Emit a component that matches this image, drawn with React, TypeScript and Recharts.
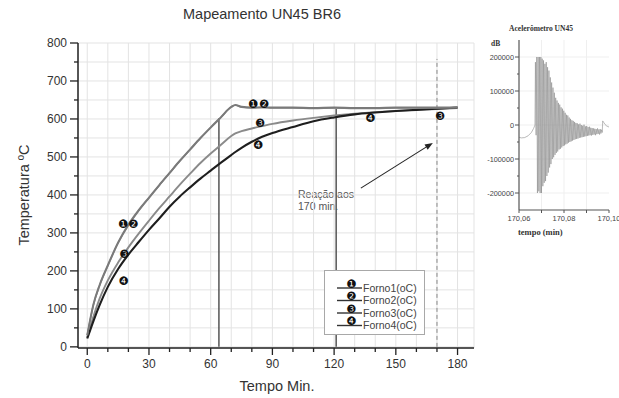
import React from "react";
import {
  CartesianGrid,
  ComposedChart,
  Legend,
  Line,
  LineChart,
  ReferenceDot,
  ReferenceLine,
  XAxis,
  YAxis,
} from "recharts";

// main chart: furnace temperatures
const tempoMin = [0, 3, 6, 10, 15, 20, 25, 30, 35, 40, 45, 50, 55, 60, 65, 70, 72, 75, 80, 85, 90, 100, 110, 120, 130, 140, 150, 160, 170, 180];
const forno1 = [31, 112, 163, 215, 275, 322, 360, 393, 426, 458, 490, 520, 550, 578, 605, 632, 637, 632, 630, 631, 630, 630, 629, 630, 629, 629, 630, 630, 630, 631];
const forno2 = [30, 110, 161, 213, 273, 320, 358, 392, 425, 457, 489, 519, 549, 577, 604, 631, 636, 631, 629, 630, 629, 629, 628, 629, 628, 628, 629, 629, 629, 630];
const forno3 = [25, 80, 127, 175, 222, 262, 298, 332, 365, 396, 427, 456, 484, 509, 532, 555, 562, 568, 575, 581, 587, 596, 603, 609, 614, 618, 621, 624, 626, 629];
const forno4 = [22, 68, 110, 158, 205, 243, 276, 308, 338, 369, 396, 420, 443, 464, 485, 505, 513, 524, 540, 553, 563, 579, 594, 604, 612, 617, 621, 624, 627, 630];
const seriesNames = ["Forno1(oC)", "Forno2(oC)", "Forno3(oC)", "Forno4(oC)"];
const seriesBadges = ["\u2776", "\u2777", "\u2778", "\u2779"];

const xTicks = [0, 10, 20, 30, 40, 50, 60, 70, 80, 90, 100, 110, 120, 130, 140, 150, 160, 170, 180];
const yTicks = [0, 50, 100, 150, 200, 250, 300, 350, 400, 450, 500, 550, 600, 650, 700, 750, 800];

// circled numbers placed along the curves
const badgeT = [17.5, 22.4, 80.7, 86, 18.1, 84.1, 171.6, 17.7, 83.1, 137.6];
const badgeV = [324, 324, 639, 639, 245, 589, 609, 174, 531, 603];
const badgeText = ["\u2776", "\u2777", "\u2776", "\u2777", "\u2778", "\u2778", "\u2778", "\u2779", "\u2779", "\u2779"];

// inset: accelerometer trace
const accelPreT = [170.06, 170.061, 170.0625, 170.064, 170.0655, 170.0665, 170.0671];
const accelPreV = [-36000, -38000, -37000, -32000, -22000, -10000, 0];
const accelBurstStart = 170.0673;
const accelBurstStep = 0.0003;
const accelBurstV = [
  185000, -30000, 200000, -200000, 200000, -195000, 200000, -200000, 200000, -200000,
  195000, -180000, 190000, -170000, 180000, -165000, 185000, -150000, 170000, -140000,
  160000, -125000, 140000, -115000, 125000, -100000, 110000, -95000, 95000, -88000,
  80000, -82000, 72000, -78000, 65000, -72000, 60000, -70000, 52000, -66000,
  48000, -62000, 42000, -60000, 36000, -57000, 30000, -55000, 28000, -52000,
  22000, -50000, 18000, -48000, 14000, -46000, 12000, -44000, 9000, -42000,
  6000, -41000, 5000, -40000, 2000, -38000, 4000, -37000, 0, -36000,
  -2000, -35000, 1000, -34000, -4000, -33000, -3000, -32000, -6000, -31000,
  -5000, -30000, -8000, -31000, -9000, -29000, -10000, -28000, -11000, -30000,
  -12000, -27000, -10000, -26000, -13000, -28000, -12000, -25000, -14000, -22000,
];
const accelPostT = [170.0972, 170.0976, 170.0982, 170.099, 170.1];
const accelPostV = [12000, 8000, 2000, -3000, -6000];
const accelXTicks = [170.06, 170.07, 170.08, 170.09, 170.1];
const accelYTicks = [-200000, -150000, -100000, -50000, 0, 50000, 100000, 150000, 200000];

const mainTable = tempoMin.map((t, i) => ({
  t,
  forno1: forno1[i],
  forno2: forno2[i],
  forno3: forno3[i],
  forno4: forno4[i],
}));

const accelTable = [
  ...accelPreT.map((t, i) => ({ t, v: accelPreV[i] })),
  ...accelBurstV.map((v, i) => ({ t: accelBurstStart + i * accelBurstStep, v })),
  ...accelPostT.map((t, i) => ({ t, v: accelPostV[i] })),
];

const SANS = "'Liberation Sans', Arial, sans-serif";
const SERIF = "'Liberation Serif', 'Times New Roman', serif";
const DINGBAT = "'DejaVu Sans', sans-serif";

function BottomTick(props: any) {
  const { x, y, payload } = props;
  const major = payload.value % 30 === 0;
  return (
    <g>
      <line x1={x} x2={x} y1={y} y2={y + (major ? 7 : 4)} stroke="#222" strokeWidth={1.3} />
      {major && (
        <text x={x} y={y + 20} textAnchor="middle" fontSize={12} fill="#333" fontFamily={SANS}>
          {payload.value}
        </text>
      )}
    </g>
  );
}

function TopTick(props: any) {
  const { x, y, payload } = props;
  const major = payload.value % 30 === 0;
  return <line x1={x} x2={x} y1={y} y2={y - (major ? 5 : 3)} stroke="#333" strokeWidth={1.2} />;
}

function LeftTick(props: any) {
  const { x, y, payload } = props;
  const major = payload.value % 100 === 0;
  return (
    <g>
      <line x1={x} x2={x - (major ? 8 : 4)} y1={y} y2={y} stroke="#222" strokeWidth={1.3} />
      {major && (
        <text x={x - 11} y={y + 4} textAnchor="end" fontSize={12} fill="#333" fontFamily={SANS}>
          {payload.value}
        </text>
      )}
    </g>
  );
}

function Arrow(props: any) {
  const { x1, y1, x2, y2 } = props;
  const a = Math.atan2(y2 - y1, x2 - x1);
  const len = 8;
  const half = 3;
  const bx = x2 - len * Math.cos(a);
  const by = y2 - len * Math.sin(a);
  const px = -Math.sin(a) * half;
  const py = Math.cos(a) * half;
  return (
    <g>
      <line x1={x1} y1={y1} x2={bx} y2={by} stroke="#222" strokeWidth={1.1} />
      <polygon points={`${x2},${y2} ${bx + px},${by + py} ${bx - px},${by - py}`} fill="#222" />
    </g>
  );
}

function badgeShape(label: string) {
  return (p: any) => (
    <text x={p.cx} y={p.cy + 4} textAnchor="middle" fontSize={11.5} fill="#111" fontFamily={DINGBAT}>
      {label}
    </text>
  );
}

function LegendBox() {
  const rows = [17, 29.5, 42, 54.5];
  return (
    <svg width={101} height={65} style={{ display: "block" }}>
      <rect x={0.5} y={0.5} width={100} height={64} fill="#fff" stroke="#a8a8a8" />
      {seriesNames.map((name, i) => (
        <g key={name}>
          <line x1={13} x2={38} y1={rows[i] + 1} y2={rows[i] + 1} stroke="#333" strokeWidth={1.4} />
          <text x={27.5} y={rows[i] + 0.5} textAnchor="middle" fontSize={11.5} fill="#111" fontFamily={DINGBAT}>
            {seriesBadges[i]}
          </text>
          <text x={39} y={rows[i] + 4.5} fontSize={10.5} fill="#444" fontFamily={SANS}>
            {name}
          </text>
        </g>
      ))}
    </svg>
  );
}

function AccelBottomTick(props: any) {
  const { x, y, payload } = props;
  const labelled = Math.round(payload.value * 100) % 2 === 0;
  return (
    <g>
      <line x1={x} x2={x} y1={y} y2={y + 3} stroke="#555" strokeWidth={1} />
      {labelled && (
        <text x={x} y={y + 11} textAnchor="middle" fontSize={7.5} fill="#444" fontFamily={SANS}>
          {payload.value.toFixed(2).replace(".", ",")}
        </text>
      )}
    </g>
  );
}

function AccelTopTick(props: any) {
  const { x, y } = props;
  return <line x1={x} x2={x} y1={y} y2={y + 3} stroke="#666" strokeWidth={1} />;
}

function AccelLeftTick(props: any) {
  const { x, y, payload } = props;
  const major = payload.value % 100000 === 0;
  return (
    <g>
      <line x1={x} x2={x - (major ? 4 : 2)} y1={y} y2={y} stroke="#555" strokeWidth={1} />
      {major && (
        <text x={x - 5} y={y + 2.5} textAnchor="end" fontSize={7.3} fill="#444" fontFamily={SANS}>
          {payload.value}
        </text>
      )}
    </g>
  );
}

export default function App() {
  return (
    <div
      style={{
        position: "absolute",
        left: 0,
        top: 0,
        width: 619,
        height: 398,
        background: "#fff",
        fontFamily: SANS,
        overflow: "hidden",
      }}
    >
      <div style={{ position: "absolute", left: 162, top: 6, width: 200, textAlign: "center", fontSize: 14.5, color: "#333" }}>
        Mapeamento UN45 BR6
      </div>
      <div
        style={{
          position: "absolute",
          left: 24,
          top: 195,
          transform: "translate(-50%, -50%) rotate(-90deg)",
          whiteSpace: "nowrap",
          fontSize: 14.5,
          color: "#333",
        }}
      >
        Temperatura ºC
      </div>
      <div style={{ position: "absolute", left: 217, top: 378, width: 120, textAlign: "center", fontSize: 14.5, color: "#333" }}>
        Tempo Min.
      </div>
      <div style={{ position: "absolute", left: 298, top: 188, fontSize: 10.5, lineHeight: "12px", color: "#555" }}>
        Reação aos
        <br />
        170 min.
      </div>

      <div style={{ position: "absolute", left: 0, top: 0 }}>
        <ComposedChart width={500} height={398} data={mainTable} margin={{ top: 43, right: 26, bottom: 20, left: 38 }}>
          <CartesianGrid stroke="#e3e3e3" strokeWidth={1} />
          <XAxis
            dataKey="t"
            type="number"
            domain={[-4.5, 188]}
            allowDataOverflow
            ticks={xTicks}
            interval={0}
            tickSize={0}
            tickMargin={0}
            height={30}
            tick={<BottomTick />}
            stroke="#222"
            strokeWidth={1.5}
          />
          <XAxis
            xAxisId="top"
            orientation="top"
            dataKey="t"
            type="number"
            domain={[-4.5, 188]}
            allowDataOverflow
            ticks={xTicks}
            interval={0}
            tickSize={0}
            tickMargin={0}
            height={0}
            tick={<TopTick />}
            stroke="#333"
            strokeWidth={1.2}
          />
          <YAxis
            type="number"
            domain={[-3, 800]}
            allowDataOverflow
            ticks={yTicks}
            interval={0}
            tickSize={0}
            tickMargin={0}
            width={40}
            tick={<LeftTick />}
            stroke="#222"
            strokeWidth={1.5}
          />
          <YAxis
            yAxisId="right"
            orientation="right"
            type="number"
            domain={[-3, 800]}
            allowDataOverflow
            width={0}
            tick={false}
            tickLine={false}
            stroke="#333"
            strokeWidth={1.2}
          />

          <ReferenceLine segment={[{ x: 64, y: 0 }, { x: 64, y: 602 }]} stroke="#555" strokeWidth={1.5} />
          <ReferenceLine segment={[{ x: 121, y: 0 }, { x: 121, y: 626 }]} stroke="#555" strokeWidth={1.5} />
          <ReferenceLine segment={[{ x: 170, y: 0 }, { x: 170, y: 758 }]} stroke="#888" strokeWidth={1} strokeDasharray="4 3" />
          <ReferenceLine segment={[{ x: 133, y: 418 }, { x: 168, y: 537 }]} shape={<Arrow />} />

          <Line type="monotone" dataKey="forno3" stroke="#8a8a8a" strokeWidth={1.9} dot={false} isAnimationActive={false} />
          <Line type="monotone" dataKey="forno4" stroke="#1e1e1e" strokeWidth={2.1} dot={false} isAnimationActive={false} />
          <Line type="monotone" dataKey="forno2" stroke="#858585" strokeWidth={1.6} dot={false} isAnimationActive={false} />
          <Line type="monotone" dataKey="forno1" stroke="#7a7a7a" strokeWidth={1.9} dot={false} isAnimationActive={false} />

          {badgeT.map((t, i) => (
            <ReferenceDot key={i} x={t} y={badgeV[i]} r={4} shape={badgeShape(badgeText[i])} />
          ))}

          <Legend
            layout="horizontal"
            align="center"
            verticalAlign="middle"
            content={() => <LegendBox />}
            wrapperStyle={{ position: "absolute", left: 324, top: 270, width: 101, height: 65 }}
          />
        </ComposedChart>
      </div>

      <div style={{ position: "absolute", left: 480, top: 0 }}>
        <LineChart width={139} height={240} data={accelTable} margin={{ top: 40, right: 10, bottom: 1, left: 0 }}>
          <CartesianGrid stroke="#efefef" strokeWidth={1} verticalValues={[170.07, 170.08, 170.09]} horizontalValues={[-200000, -100000, 0, 100000, 200000]} />
          <XAxis
            dataKey="t"
            type="number"
            domain={[170.06, 170.1]}
            allowDataOverflow
            ticks={accelXTicks}
            interval={0}
            tickSize={0}
            tickMargin={0}
            height={29}
            tick={<AccelBottomTick />}
            stroke="#555"
            strokeWidth={1.2}
          />
          <XAxis
            xAxisId="top"
            orientation="top"
            dataKey="t"
            type="number"
            domain={[170.06, 170.1]}
            allowDataOverflow
            ticks={accelXTicks}
            interval={0}
            tickSize={0}
            tickMargin={0}
            height={0}
            tick={<AccelTopTick />}
            stroke="#888"
            strokeWidth={1.4}
          />
          <YAxis
            type="number"
            domain={[-250000, 250000]}
            allowDataOverflow
            ticks={accelYTicks}
            interval={0}
            tickSize={0}
            tickMargin={0}
            width={39}
            tick={<AccelLeftTick />}
            stroke="#555"
            strokeWidth={1.2}
          />
          <YAxis
            yAxisId="right"
            orientation="right"
            type="number"
            domain={[-250000, 250000]}
            width={0}
            tick={false}
            tickLine={false}
            stroke="#8a8a8a"
            strokeWidth={1.6}
          />
          <Line type="linear" dataKey="v" stroke="#8c8c8c" strokeWidth={0.6} dot={false} isAnimationActive={false} />
        </LineChart>
      </div>
      <div style={{ position: "absolute", left: 480, top: 24, width: 122, textAlign: "center", fontFamily: SERIF, fontWeight: "bold", fontSize: 7.5, color: "#333" }}>
        Acelerômetro UN45
      </div>
      <div style={{ position: "absolute", left: 491, top: 39, fontFamily: SERIF, fontWeight: "bold", fontSize: 7.5, color: "#333" }}>
        dB
      </div>
      <div style={{ position: "absolute", left: 518, top: 227, fontFamily: SERIF, fontWeight: "bold", fontSize: 8.5, color: "#333" }}>
        tempo (min)
      </div>
    </div>
  );
}
